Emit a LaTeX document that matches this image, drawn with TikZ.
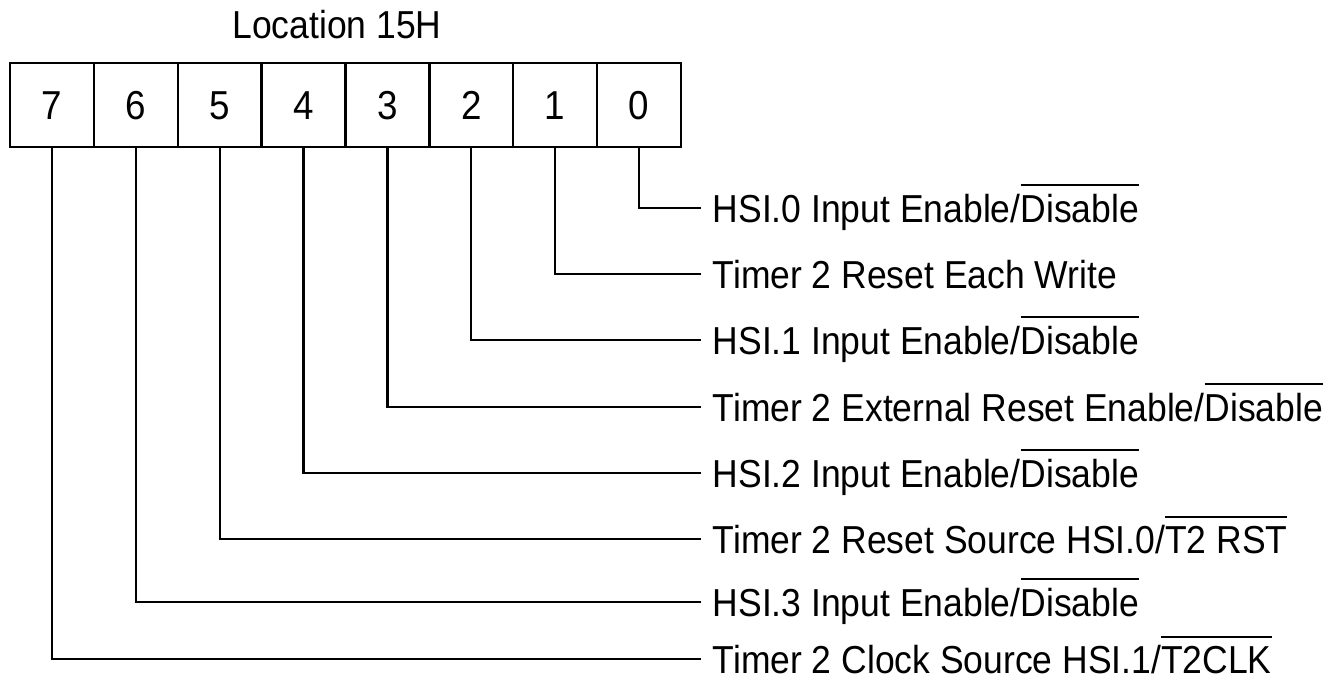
\documentclass[tikz,border=0pt]{standalone}
\usepackage{fontspec}
\setmainfont{Liberation Sans}[FakeStretch=0.91]
\newcommand\negbar[1]{\vbox{\hrule height 1.1pt \kern 4.5pt \hbox{#1}}}
\begin{document}
\begin{tikzpicture}[
	x=0.02cm, y=-0.02cm,
	bitcell/.style={ draw, line width=1.3pt, minimum width=1.6775cm, minimum height=1.68cm, inner sep=0pt, text height=16.5pt, text depth=0pt, font=\fontsize{23}{27}\selectfont },
	field/.style={ anchor=west, inner xsep=6.5pt, inner ysep=0pt, text height=16pt, text depth=0pt, font=\fontsize{22.2}{26}\selectfont },
	lead/.style={ line width=1.3pt }
]
\useasboundingbox (0,0) rectangle (1331,681);

\node at (337,38) (title) [anchor=base, font=\fontsize{22.2}{26}\selectfont] {Location 15H};

\foreach \bitno in {0,...,7} \node at ({10+(7.5-\bitno)*83.875},105) (bit\bitno) [bitcell] {\bitno};

\node at (701,208) (f0) [field] {HSI.0 Input Enable/\negbar{Disable}};
\node at (701,274) (f1) [field] {Timer 2 Reset Each Write};
\node at (701,340) (f2) [field] {HSI.1 Input Enable/\negbar{Disable}};
\node at (701,407) (f3) [field] {Timer 2 External Reset Enable/\negbar{Disable}};
\node at (701,473) (f4) [field] {HSI.2 Input Enable/\negbar{Disable}};
\node at (701,539) (f5) [field] {Timer 2 Reset Source HSI.0/\negbar{T2 RST}};
\node at (701,602) (f6) [field] {HSI.3 Input Enable/\negbar{Disable}};
\node at (701,659) (f7) [field] {Timer 2 Clock Source HSI.1/\negbar{T2CLK}};

\foreach \bitno in {0,...,7} \draw[lead] (bit\bitno.south) |- (f\bitno.west);

\end{tikzpicture}
\end{document}
